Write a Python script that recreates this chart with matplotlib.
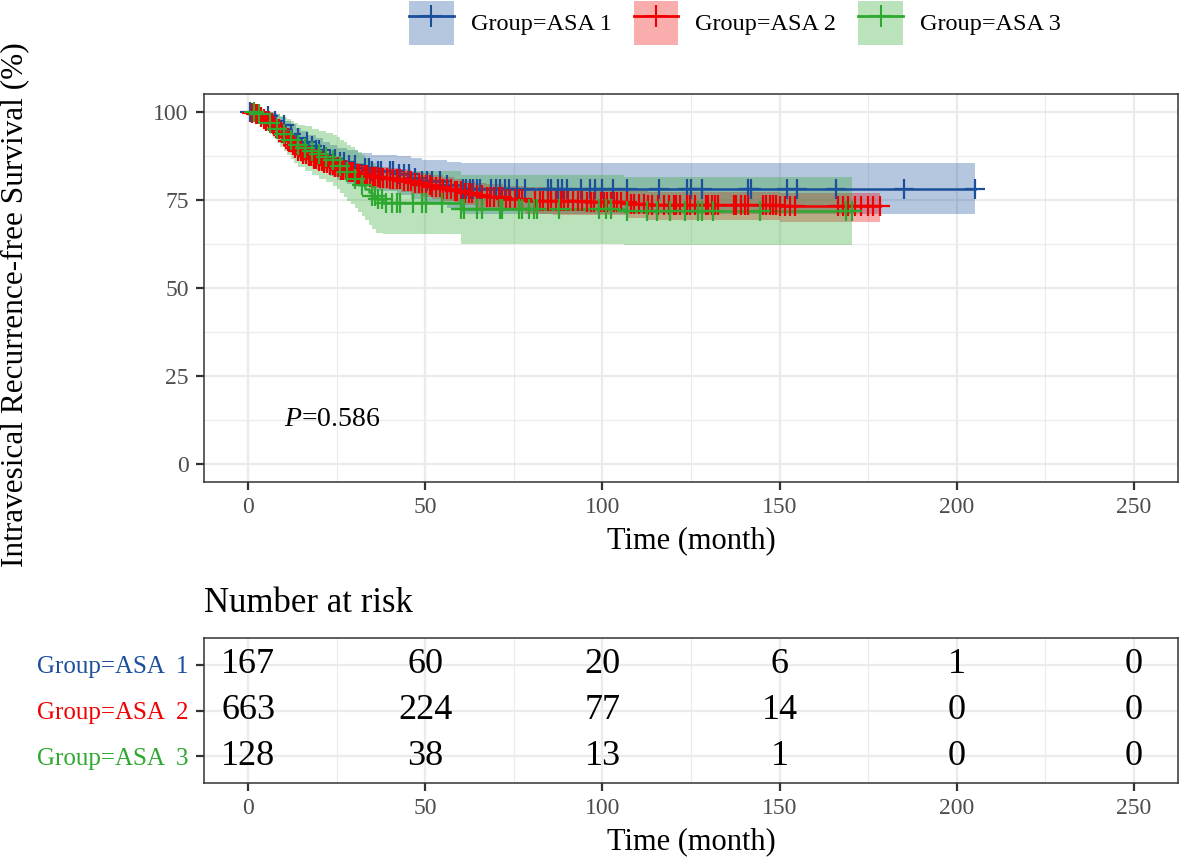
import numpy as np
import matplotlib.pyplot as plt
from matplotlib.lines import Line2D
from matplotlib.patches import Patch

plt.rcParams["font.family"] = "Liberation Serif"
plt.rcParams["mathtext.fontset"] = "custom"
plt.rcParams["mathtext.rm"] = "Liberation Serif"
plt.rcParams["mathtext.it"] = "Liberation Serif:italic"

# ---- data ------------------------------------------------------------------
groups = ["Group=ASA 1", "Group=ASA 2", "Group=ASA 3"]
row_labels = ["Group=ASA  1", "Group=ASA  2", "Group=ASA  3"]
colors = ["#1B4F9C", "#F00000", "#2EA82E"]

# ASA 1
t1 = [0, 3, 4.5, 6, 7.5, 9, 10.5, 12, 13.5, 15, 17, 19, 21, 23, 25, 28, 31, 35, 42, 46, 49, 56, 60]
s1 = [100, 99.4, 98.8, 98.1, 97.4, 96.2, 95.0, 93.8, 92.6, 91.4, 90.2, 89.0, 87.8, 86.7, 85.8,
      84.9, 84.0, 83.1, 82.2, 81.3, 80.3, 79.2, 78.0]
up1 = [100, 100, 100, 99.8, 99.3, 98.4, 97.4, 96.4, 95.4, 94.4, 93.4, 92.4, 91.5, 90.6, 89.8,
       89.0, 88.4, 87.8, 87.3, 86.8, 86.3, 85.8, 85.3]
lo1 = [100, 98.2, 97.1, 96.0, 94.9, 93.2, 91.7, 90.2, 88.8, 87.4, 86.0, 84.6, 83.2, 81.8, 80.7,
       79.6, 78.5, 77.4, 76.3, 75.2, 74.1, 72.8, 71.0]
end1 = 205.3
cens1 = [0.5, 5.5, 7.5, 10, 12, 14, 16.5, 18, 19, 20, 21.5, 23, 24.5, 26, 27, 28.5, 30, 33, 34,
         35, 36.5, 37.5, 40, 41, 42.5, 44, 45.5, 47, 49, 50.5, 52, 54, 56, 60.5, 61.5, 62.5, 63.5,
         64.5, 65.5, 68.5, 70, 71, 72.5, 73.5, 76, 78, 84.5, 85.5, 87.5, 88.5, 90, 94, 96.5, 98,
         100, 103, 107, 116, 124, 125, 128, 141, 142, 152, 155, 166, 185, 205.3]

# ASA 2
t2 = [0, 1, 2, 3, 4, 5, 6, 7, 8, 9, 10, 11, 12, 13, 14, 15, 16.5, 18, 19.5, 21, 22.5, 24, 26,
      28, 30, 32, 34, 37, 40, 43, 46, 49, 52, 55, 58, 61, 64, 67, 72, 78, 86, 95, 107, 113, 150]
s2 = [100, 99.7, 99.2, 98.6, 98.0, 97.4, 96.7, 95.9, 95.0, 94.0, 92.9, 91.7, 90.6, 89.6, 88.8,
      88.0, 87.3, 86.7, 86.1, 85.5, 84.9, 84.2, 83.5, 82.9, 82.4, 81.9, 81.5, 81.2, 80.9, 80.4,
      79.8, 79.2, 78.6, 78.0, 77.4, 76.9, 76.3, 75.8, 75.3, 74.8, 74.6, 74.4, 73.8, 73.5, 73.2]
up2 = [100, 100, 99.9, 99.5, 99.1, 98.6, 98.0, 97.3, 96.6, 95.7, 94.8, 93.7, 92.7, 91.8, 91.1,
       90.4, 89.8, 89.2, 88.7, 88.2, 87.6, 87.0, 86.4, 85.8, 85.4, 84.9, 84.6, 84.3, 84.0, 83.6,
       83.0, 82.5, 81.9, 81.4, 80.9, 80.4, 79.8, 79.4, 78.9, 78.5, 78.3, 78.1, 77.6, 77.3, 77.0]
lo2 = [100, 99.3, 98.5, 97.7, 96.9, 96.2, 95.4, 94.5, 93.4, 92.3, 91.0, 89.7, 88.5, 87.4, 86.5,
       85.6, 84.8, 84.2, 83.5, 82.8, 82.2, 81.4, 80.6, 80.0, 79.4, 78.9, 78.4, 78.1, 77.8, 77.2,
       76.6, 75.9, 75.3, 74.6, 74.0, 73.4, 72.8, 72.2, 71.7, 71.1, 70.8, 70.6, 69.9, 69.4, 68.6]
end2 = 178.5
cens2 = [1, 2.2, 2.8, 3.7, 4.3, 5.1, 5.8, 6.6, 7.2, 8.1, 8.8, 9.4, 10.3, 11.1, 11.7, 12.6, 13.2,
         14.1, 14.8, 15.4, 16.3, 17.1, 17.7, 18.6, 19.2, 20.1, 20.9, 21.4, 22.3, 23.2, 23.8, 24.5,
         25.4, 26.1, 26.7, 27.6, 28.3, 29.1, 29.7, 30.6, 31.2, 32.1, 32.9, 33.4, 34.3, 35.2, 35.8,
         36.6, 37.3, 38.1, 39.2, 40.1, 40.8, 42, 42.9, 44.1, 45.2, 45.9, 47, 48.2, 49, 50.1, 51.3,
         52, 53.1, 54.2, 55, 56.2, 57.1, 58.3, 59, 60.2, 61.1, 62.3, 63.2, 64.6, 65.9, 67.4, 68.2,
         69.3, 70.7, 71.6, 72.9, 73.8, 75.2, 76.4, 77.3, 81, 82.4, 83.3, 84.6, 85.4, 86.9, 88.3,
         89.1, 90.4, 91.6, 93.1, 94.2, 95.6, 96.8, 97.7, 99.5, 100.4, 101.2, 102.3, 103.3, 104.1,
         105.2, 106.9, 108, 108.8, 110.2, 111.6, 113, 113.9, 115.8, 117.3, 118.7, 120.1, 120.9,
         121.9, 123.8, 124.8, 126.2, 129.1, 129.9, 130.8, 131.8, 132.7, 137, 137.7, 139.2, 140.2,
         141.2, 145.4, 146.2, 147.3, 148.2, 149, 150.1, 151.5, 152.9, 154.3, 166.5, 167.9, 169.3,
         171.2, 173, 175, 176.4, 178.5]

# ASA 3
t3 = [0, 2, 4, 5, 6, 7, 8, 9, 10, 11, 12, 13, 14, 16, 18, 20, 22, 24, 25, 26, 27, 28, 29, 30,
      31, 32, 33, 34, 35, 36, 38, 60, 106]
s3 = [100, 99.2, 98.4, 97.6, 96.8, 96.0, 95.2, 94.4, 93.6, 92.8, 92.0, 91.2, 90.4, 89.6, 88.8,
      88.0, 87.2, 86.4, 85.5, 84.6, 83.7, 82.8, 81.9, 81.0, 80.1, 79.1, 78.1, 77.1, 76.1, 75.1,
      74.0, 72.3, 71.8]
up3 = [100, 100, 100, 100, 99.9, 99.6, 99.2, 98.8, 98.4, 97.9, 97.4, 96.9, 96.3, 95.8, 95.2,
       94.6, 94.0, 93.4, 92.7, 92.0, 91.3, 90.6, 89.9, 89.2, 88.5, 87.7, 86.9, 86.1, 85.3, 84.5,
       83.3, 82.0, 81.6]
lo3 = [100, 97.7, 96.2, 94.9, 93.6, 92.4, 91.2, 90.0, 88.8, 87.6, 86.5, 85.4, 84.3, 83.2, 82.1,
       81.0, 80.0, 79.0, 78.0, 77.0, 75.9, 74.8, 73.7, 72.6, 71.5, 70.4, 69.2, 68.0, 66.8, 65.6,
       65.4, 62.6, 62.3]
end3 = 170.5
cens3 = [1.5, 3, 6, 8, 10, 12, 14, 16, 18, 20, 22, 24, 26, 28, 30, 32, 35, 35.7, 36.6, 37.7, 39,
         40.5, 42, 42.7, 46.4, 49, 50.3, 54.7, 60.2, 61, 64.7, 66, 71, 71.7, 76.5, 77.3, 79.3, 80.7,
         81.6, 87.7, 99, 101, 102.4, 107, 112.5, 115.3, 119.2, 123.4, 127, 128, 131.3, 144.5,
         168.7, 170.5]

risk_times = [0, 50, 100, 150, 200, 250]
risk_asa1 = [167, 60, 20, 6, 1, 0]
risk_asa2 = [663, 224, 77, 14, 0, 0]
risk_asa3 = [128, 38, 13, 1, 0, 0]
p_text = "$\\it{P}$=0.586"

curves = [(t1, s1, up1, lo1, end1, cens1), (t2, s2, up2, lo2, end2, cens2),
          (t3, s3, up3, lo3, end3, cens3)]
risks = [risk_asa1, risk_asa2, risk_asa3]

# ---- figure -----------------------------------------------------------------
W, H = 1181, 859
fig = plt.figure(figsize=(W / 100, H / 100), dpi=100)
ax = fig.add_axes([204 / W, 1 - 482 / H, 974 / W, 388 / H])
ax2 = fig.add_axes([204 / W, 1 - 783 / H, 974 / W, 145 / H])

GRID = "#EBEBEB"
TICKC = "#4D4D4D"


def style(a):
    a.set_facecolor("white")
    for sp in a.spines.values():
        sp.set_color("#333333")
        sp.set_linewidth(1.1)
    a.tick_params(which="major", length=6, width=1.6, color="#333333",
                  labelsize=17, labelcolor=TICKC, pad=5)
    a.tick_params(which="minor", length=0)
    a.grid(True, which="major", color=GRID, lw=1.6, zorder=0)
    a.set_axisbelow(True)


# main KM panel
style(ax)
ax.grid(True, which="minor", color=GRID, lw=0.8)
ax.set_xlim(-12.5, 262.5)
ax.set_ylim(-5, 105)
ax.set_xticks([0, 50, 100, 150, 200, 250])
ax.set_xticks([25, 75, 125, 175, 225], minor=True)
ax.set_yticks([0, 25, 50, 75, 100])
ax.set_yticks([12.5, 37.5, 62.5, 87.5], minor=True)

for (t, s, up, lo, end, cens), c in zip(curves, colors):
    tt = list(t) + [end]
    ax.fill_between(tt, list(lo) + [lo[-1]], list(up) + [up[-1]], step="post",
                    color=c, alpha=0.32, lw=0, zorder=1)
for (t, s, up, lo, end, cens), c in zip(curves, colors):
    tt = list(t) + [end]
    ax.step(tt, list(s) + [s[-1]], where="post", color=c, lw=1.8, zorder=2)
for (t, s, up, lo, end, cens), c in zip(curves, colors):
    idx = np.searchsorted(np.array(t), np.array(cens), side="right") - 1
    ax.plot(cens, np.array(s)[idx], ls="none", marker="+", ms=14, mew=1.6,
            color=c, zorder=3)

ax.text(10, 12.7, p_text, fontsize=20, ha="left", va="center")
ax.set_xlabel("Time (month)", fontsize=22, labelpad=6)
fig.text(15 / W, 1 - 305 / H, "Intravesical Recurrence-free Survival (%)",
         rotation=90, fontsize=22.5, ha="center", va="center")

handles = [(Patch(facecolor=c, alpha=0.32, lw=0),
            Line2D([], [], color=c, lw=2, marker="+", ms=16, mew=1.5)) for c in colors]
fig.legend(handles, groups, loc="upper center", bbox_to_anchor=(735 / W, 1 - 1 / H),
           ncol=3, frameon=False, fontsize=17.5, borderpad=0, borderaxespad=0,
           handlelength=1.85, handleheight=2.4, handletextpad=0.7, columnspacing=0.9)

# risk table
style(ax2)
ax2.grid(True, which="minor", axis="x", color=GRID, lw=0.8)
ax2.set_xlim(-12.5, 262.5)
ax2.set_ylim(0.41, 3.59)
ax2.set_xticks(risk_times)
ax2.set_xticks([25, 75, 125, 175, 225], minor=True)
ax2.set_yticks([3, 2, 1])
ax2.set_yticklabels(row_labels, fontsize=18)
for lab, c in zip(ax2.get_yticklabels(), colors):
    lab.set_color(c)
for i, r in enumerate(risks):
    for x, v in zip(risk_times, r):
        ax2.text(x, 3 - i, str(v), fontsize=26, ha="center", va="center")
ax2.set_xlabel("Time (month)", fontsize=22, labelpad=6)
fig.text(204 / W, 1 - 603 / H, "Number at risk", fontsize=25, ha="left", va="center")

fig.savefig("out.png", dpi=100)
